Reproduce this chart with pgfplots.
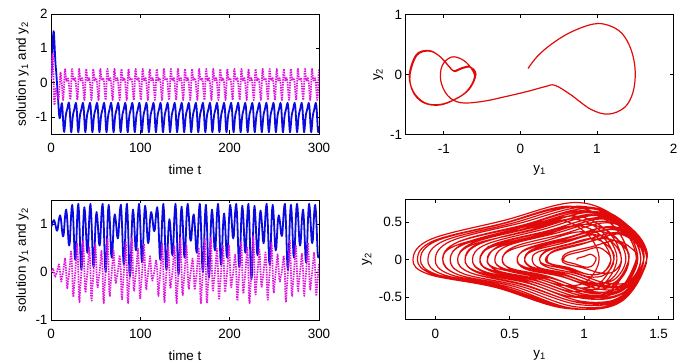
\documentclass[border=0pt]{standalone}
\usepackage{fontspec}
\setmainfont{Liberation Sans}
\usepackage{pgfplots}
\usepackage{pgfplotstable}
\pgfplotsset{compat=1.18}

\definecolor{lineblue}{RGB}{10,10,225}
\definecolor{linemag}{RGB}{225,20,225}
\definecolor{linered}{RGB}{225,10,10}

% periodic regime: t, y1, y2
\pgfplotstableread[row sep=\\]{
t y1 y2\\
0 .10 .10\\ .5 .22 .30\\ .9 .40 .50\\ 1.3 .65 .70\\ 1.7 .95 .84\\ 2.0 1.15 .82\\ 2.3 1.33 .68\\ 2.6 1.45 .40\\ 2.9 1.50 .05\\ 3.2 1.47 -.30\\ 3.5 1.36 -.55\\ 3.9 1.15 -.66\\ 4.3 .92 -.58\\ 4.8 .65 -.33\\ 5.3 .45 -.18\\ 5.8 .33 -.20\\
6.4 .10 -.28\\ 7.2 -.20 -.37\\ 8.0 -.50 -.45\\ 8.6 -.78 -.47\\ 9.1 -.95 -.35\\ 9.6 -1.04 -.10\\ 10.1 -1.02 .15\\ 10.6 -.90 .29\\ 11.1 -.76 .25\\ 11.6 -.65 .12\\ 12.2 -.60 -.05\\ 12.7 -.70 -.28\\ 13.1 -.88 -.43\\ 13.5 -1.08 -.51\\ 13.9 -1.28 -.46\\ 14.3 -1.41 -.27\\
14.8 -1.44 0\\ 15.3 -1.35 .32\\ 15.8 -1.19 .39\\ 16.2 -1.05 .30\\ 16.8 -.92 .12\\ 17.3 -.86 .05\\ 18.3 -.76 .10\\ 19.1 -.65 .12\\ 19.9 -.58 0\\ 20.6 -.67 -.25\\ 21.1 -.85 -.41\\ 21.5 -1.05 -.50\\ 21.9 -1.25 -.47\\ 22.3 -1.40 -.28\\
22.7 -1.45 0\\ 23.2 -1.36 .33\\ 23.7 -1.20 .40\\ 24.1 -1.06 .31\\ 24.7 -.93 .13\\ 25.2 -.87 .06\\ 26.2 -.77 .11\\ 27.0 -.66 .13\\ 27.8 -.59 0\\ 28.5 -.68 -.26\\ 29.0 -.86 -.42\\ 29.4 -1.06 -.51\\ 29.8 -1.26 -.47\\ 30.2 -1.40 -.28\\
30.6 -1.45 0\\ 31.1 -1.36 .33\\ 31.6 -1.20 .40\\ 32.0 -1.06 .31\\ 32.6 -.93 .13\\ 33.1 -.87 .06\\ 34.1 -.77 .11\\ 34.9 -.66 .13\\ 35.7 -.59 0\\ 36.4 -.68 -.26\\ 36.9 -.86 -.42\\ 37.3 -1.06 -.51\\ 37.7 -1.26 -.47\\ 38.1 -1.40 -.28\\
38.5 -1.45 0\\ 39.0 -1.36 .33\\ 39.5 -1.20 .40\\ 39.9 -1.06 .31\\ 40.5 -.93 .13\\ 41.0 -.87 .06\\ 42.0 -.77 .11\\ 42.8 -.66 .13\\ 43.6 -.59 0\\ 44.3 -.68 -.26\\ 44.8 -.86 -.42\\ 45.2 -1.06 -.51\\ 45.6 -1.26 -.47\\ 46.0 -1.40 -.28\\
46.4 -1.45 0\\ 46.9 -1.36 .33\\ 47.4 -1.20 .40\\ 47.8 -1.06 .31\\ 48.4 -.93 .13\\ 48.9 -.87 .06\\ 49.9 -.77 .11\\ 50.7 -.66 .13\\ 51.5 -.59 0\\ 52.2 -.68 -.26\\ 52.7 -.86 -.42\\ 53.1 -1.06 -.51\\ 53.5 -1.26 -.47\\ 53.9 -1.40 -.28\\
54.3 -1.45 0\\ 54.8 -1.36 .33\\ 55.3 -1.20 .40\\ 55.7 -1.06 .31\\ 56.3 -.93 .13\\ 56.8 -.87 .06\\ 57.8 -.77 .11\\ 58.6 -.66 .13\\ 59.4 -.59 0\\ 60.1 -.68 -.26\\ 60.6 -.86 -.42\\ 61.0 -1.06 -.51\\ 61.4 -1.26 -.47\\ 61.8 -1.40 -.28\\
62.2 -1.45 0\\ 62.7 -1.36 .33\\ 63.2 -1.20 .40\\ 63.6 -1.06 .31\\ 64.2 -.93 .13\\ 64.7 -.87 .06\\ 65.7 -.77 .11\\ 66.5 -.66 .13\\ 67.3 -.59 0\\ 68.0 -.68 -.26\\ 68.5 -.86 -.42\\ 68.9 -1.06 -.51\\ 69.3 -1.26 -.47\\ 69.7 -1.40 -.28\\
70.1 -1.45 0\\ 70.6 -1.36 .33\\ 71.1 -1.20 .40\\ 71.5 -1.06 .31\\ 72.1 -.93 .13\\ 72.6 -.87 .06\\ 73.6 -.77 .11\\ 74.4 -.66 .13\\ 75.2 -.59 0\\ 75.9 -.68 -.26\\ 76.4 -.86 -.42\\ 76.8 -1.06 -.51\\ 77.2 -1.26 -.47\\ 77.6 -1.40 -.28\\
78.0 -1.45 0\\ 78.5 -1.36 .33\\ 79.0 -1.20 .40\\ 79.4 -1.06 .31\\ 80.0 -.93 .13\\ 80.5 -.87 .06\\ 81.5 -.77 .11\\ 82.3 -.66 .13\\ 83.1 -.59 0\\ 83.8 -.68 -.26\\ 84.3 -.86 -.42\\ 84.7 -1.06 -.51\\ 85.1 -1.26 -.47\\ 85.5 -1.40 -.28\\
85.9 -1.45 0\\ 86.4 -1.36 .33\\ 86.9 -1.20 .40\\ 87.3 -1.06 .31\\ 87.9 -.93 .13\\ 88.4 -.87 .06\\ 89.4 -.77 .11\\ 90.2 -.66 .13\\ 91.0 -.59 0\\ 91.7 -.68 -.26\\ 92.2 -.86 -.42\\ 92.6 -1.06 -.51\\ 93.0 -1.26 -.47\\ 93.4 -1.40 -.28\\
93.8 -1.45 0\\ 94.3 -1.36 .33\\ 94.8 -1.20 .40\\ 95.2 -1.06 .31\\ 95.8 -.93 .13\\ 96.3 -.87 .06\\ 97.3 -.77 .11\\ 98.1 -.66 .13\\ 98.9 -.59 0\\ 99.6 -.68 -.26\\ 100.1 -.86 -.42\\ 100.5 -1.06 -.51\\ 100.9 -1.26 -.47\\ 101.3 -1.40 -.28\\
101.7 -1.45 0\\ 102.2 -1.36 .33\\ 102.7 -1.20 .40\\ 103.1 -1.06 .31\\ 103.7 -.93 .13\\ 104.2 -.87 .06\\ 105.2 -.77 .11\\ 106.0 -.66 .13\\ 106.8 -.59 0\\ 107.5 -.68 -.26\\ 108.0 -.86 -.42\\ 108.4 -1.06 -.51\\ 108.8 -1.26 -.47\\ 109.2 -1.40 -.28\\
109.6 -1.45 0\\ 110.1 -1.36 .33\\ 110.6 -1.20 .40\\ 111.0 -1.06 .31\\ 111.6 -.93 .13\\ 112.1 -.87 .06\\ 113.1 -.77 .11\\ 113.9 -.66 .13\\ 114.7 -.59 0\\ 115.4 -.68 -.26\\ 115.9 -.86 -.42\\ 116.3 -1.06 -.51\\ 116.7 -1.26 -.47\\ 117.1 -1.40 -.28\\
117.5 -1.45 0\\ 118.0 -1.36 .33\\ 118.5 -1.20 .40\\ 118.9 -1.06 .31\\ 119.5 -.93 .13\\ 120.0 -.87 .06\\ 121.0 -.77 .11\\ 121.8 -.66 .13\\ 122.6 -.59 0\\ 123.3 -.68 -.26\\ 123.8 -.86 -.42\\ 124.2 -1.06 -.51\\ 124.6 -1.26 -.47\\ 125.0 -1.40 -.28\\
125.4 -1.45 0\\ 125.9 -1.36 .33\\ 126.4 -1.20 .40\\ 126.8 -1.06 .31\\ 127.4 -.93 .13\\ 127.9 -.87 .06\\ 128.9 -.77 .11\\ 129.7 -.66 .13\\ 130.5 -.59 0\\ 131.2 -.68 -.26\\ 131.7 -.86 -.42\\ 132.1 -1.06 -.51\\ 132.5 -1.26 -.47\\ 132.9 -1.40 -.28\\
133.3 -1.45 0\\ 133.8 -1.36 .33\\ 134.3 -1.20 .40\\ 134.7 -1.06 .31\\ 135.3 -.93 .13\\ 135.8 -.87 .06\\ 136.8 -.77 .11\\ 137.6 -.66 .13\\ 138.4 -.59 0\\ 139.1 -.68 -.26\\ 139.6 -.86 -.42\\ 140.0 -1.06 -.51\\ 140.4 -1.26 -.47\\ 140.8 -1.40 -.28\\
141.2 -1.45 0\\ 141.7 -1.36 .33\\ 142.2 -1.20 .40\\ 142.6 -1.06 .31\\ 143.2 -.93 .13\\ 143.7 -.87 .06\\ 144.7 -.77 .11\\ 145.5 -.66 .13\\ 146.3 -.59 0\\ 147.0 -.68 -.26\\ 147.5 -.86 -.42\\ 147.9 -1.06 -.51\\ 148.3 -1.26 -.47\\ 148.7 -1.40 -.28\\
149.1 -1.45 0\\ 149.6 -1.36 .33\\ 150.1 -1.20 .40\\ 150.5 -1.06 .31\\ 151.1 -.93 .13\\ 151.6 -.87 .06\\ 152.6 -.77 .11\\ 153.4 -.66 .13\\ 154.2 -.59 0\\ 154.9 -.68 -.26\\ 155.4 -.86 -.42\\ 155.8 -1.06 -.51\\ 156.2 -1.26 -.47\\ 156.6 -1.40 -.28\\
157.0 -1.45 0\\ 157.5 -1.36 .33\\ 158.0 -1.20 .40\\ 158.4 -1.06 .31\\ 159.0 -.93 .13\\ 159.5 -.87 .06\\ 160.5 -.77 .11\\ 161.3 -.66 .13\\ 162.1 -.59 0\\ 162.8 -.68 -.26\\ 163.3 -.86 -.42\\ 163.7 -1.06 -.51\\ 164.1 -1.26 -.47\\ 164.5 -1.40 -.28\\
164.9 -1.45 0\\ 165.4 -1.36 .33\\ 165.9 -1.20 .40\\ 166.3 -1.06 .31\\ 166.9 -.93 .13\\ 167.4 -.87 .06\\ 168.4 -.77 .11\\ 169.2 -.66 .13\\ 170.0 -.59 0\\ 170.7 -.68 -.26\\ 171.2 -.86 -.42\\ 171.6 -1.06 -.51\\ 172.0 -1.26 -.47\\ 172.4 -1.40 -.28\\
172.8 -1.45 0\\ 173.3 -1.36 .33\\ 173.8 -1.20 .40\\ 174.2 -1.06 .31\\ 174.8 -.93 .13\\ 175.3 -.87 .06\\ 176.3 -.77 .11\\ 177.1 -.66 .13\\ 177.9 -.59 0\\ 178.6 -.68 -.26\\ 179.1 -.86 -.42\\ 179.5 -1.06 -.51\\ 179.9 -1.26 -.47\\ 180.3 -1.40 -.28\\
180.7 -1.45 0\\ 181.2 -1.36 .33\\ 181.7 -1.20 .40\\ 182.1 -1.06 .31\\ 182.7 -.93 .13\\ 183.2 -.87 .06\\ 184.2 -.77 .11\\ 185.0 -.66 .13\\ 185.8 -.59 0\\ 186.5 -.68 -.26\\ 187.0 -.86 -.42\\ 187.4 -1.06 -.51\\ 187.8 -1.26 -.47\\ 188.2 -1.40 -.28\\
188.6 -1.45 0\\ 189.1 -1.36 .33\\ 189.6 -1.20 .40\\ 190.0 -1.06 .31\\ 190.6 -.93 .13\\ 191.1 -.87 .06\\ 192.1 -.77 .11\\ 192.9 -.66 .13\\ 193.7 -.59 0\\ 194.4 -.68 -.26\\ 194.9 -.86 -.42\\ 195.3 -1.06 -.51\\ 195.7 -1.26 -.47\\ 196.1 -1.40 -.28\\
196.5 -1.45 0\\ 197.0 -1.36 .33\\ 197.5 -1.20 .40\\ 197.9 -1.06 .31\\ 198.5 -.93 .13\\ 199.0 -.87 .06\\ 200.0 -.77 .11\\ 200.8 -.66 .13\\ 201.6 -.59 0\\ 202.3 -.68 -.26\\ 202.8 -.86 -.42\\ 203.2 -1.06 -.51\\ 203.6 -1.26 -.47\\ 204.0 -1.40 -.28\\
204.4 -1.45 0\\ 204.9 -1.36 .33\\ 205.4 -1.20 .40\\ 205.8 -1.06 .31\\ 206.4 -.93 .13\\ 206.9 -.87 .06\\ 207.9 -.77 .11\\ 208.7 -.66 .13\\ 209.5 -.59 0\\ 210.2 -.68 -.26\\ 210.7 -.86 -.42\\ 211.1 -1.06 -.51\\ 211.5 -1.26 -.47\\ 211.9 -1.40 -.28\\
212.3 -1.45 0\\ 212.8 -1.36 .33\\ 213.3 -1.20 .40\\ 213.7 -1.06 .31\\ 214.3 -.93 .13\\ 214.8 -.87 .06\\ 215.8 -.77 .11\\ 216.6 -.66 .13\\ 217.4 -.59 0\\ 218.1 -.68 -.26\\ 218.6 -.86 -.42\\ 219.0 -1.06 -.51\\ 219.4 -1.26 -.47\\ 219.8 -1.40 -.28\\
220.2 -1.45 0\\ 220.7 -1.36 .33\\ 221.2 -1.20 .40\\ 221.6 -1.06 .31\\ 222.2 -.93 .13\\ 222.7 -.87 .06\\ 223.7 -.77 .11\\ 224.5 -.66 .13\\ 225.3 -.59 0\\ 226.0 -.68 -.26\\ 226.5 -.86 -.42\\ 226.9 -1.06 -.51\\ 227.3 -1.26 -.47\\ 227.7 -1.40 -.28\\
228.1 -1.45 0\\ 228.6 -1.36 .33\\ 229.1 -1.20 .40\\ 229.5 -1.06 .31\\ 230.1 -.93 .13\\ 230.6 -.87 .06\\ 231.6 -.77 .11\\ 232.4 -.66 .13\\ 233.2 -.59 0\\ 233.9 -.68 -.26\\ 234.4 -.86 -.42\\ 234.8 -1.06 -.51\\ 235.2 -1.26 -.47\\ 235.6 -1.40 -.28\\
236.0 -1.45 0\\ 236.5 -1.36 .33\\ 237.0 -1.20 .40\\ 237.4 -1.06 .31\\ 238.0 -.93 .13\\ 238.5 -.87 .06\\ 239.5 -.77 .11\\ 240.3 -.66 .13\\ 241.1 -.59 0\\ 241.8 -.68 -.26\\ 242.3 -.86 -.42\\ 242.7 -1.06 -.51\\ 243.1 -1.26 -.47\\ 243.5 -1.40 -.28\\
243.9 -1.45 0\\ 244.4 -1.36 .33\\ 244.9 -1.20 .40\\ 245.3 -1.06 .31\\ 245.9 -.93 .13\\ 246.4 -.87 .06\\ 247.4 -.77 .11\\ 248.2 -.66 .13\\ 249.0 -.59 0\\ 249.7 -.68 -.26\\ 250.2 -.86 -.42\\ 250.6 -1.06 -.51\\ 251.0 -1.26 -.47\\ 251.4 -1.40 -.28\\
251.8 -1.45 0\\ 252.3 -1.36 .33\\ 252.8 -1.20 .40\\ 253.2 -1.06 .31\\ 253.8 -.93 .13\\ 254.3 -.87 .06\\ 255.3 -.77 .11\\ 256.1 -.66 .13\\ 256.9 -.59 0\\ 257.6 -.68 -.26\\ 258.1 -.86 -.42\\ 258.5 -1.06 -.51\\ 258.9 -1.26 -.47\\ 259.3 -1.40 -.28\\
259.7 -1.45 0\\ 260.2 -1.36 .33\\ 260.7 -1.20 .40\\ 261.1 -1.06 .31\\ 261.7 -.93 .13\\ 262.2 -.87 .06\\ 263.2 -.77 .11\\ 264.0 -.66 .13\\ 264.8 -.59 0\\ 265.5 -.68 -.26\\ 266.0 -.86 -.42\\ 266.4 -1.06 -.51\\ 266.8 -1.26 -.47\\ 267.2 -1.40 -.28\\
267.6 -1.45 0\\ 268.1 -1.36 .33\\ 268.6 -1.20 .40\\ 269.0 -1.06 .31\\ 269.6 -.93 .13\\ 270.1 -.87 .06\\ 271.1 -.77 .11\\ 271.9 -.66 .13\\ 272.7 -.59 0\\ 273.4 -.68 -.26\\ 273.9 -.86 -.42\\ 274.3 -1.06 -.51\\ 274.7 -1.26 -.47\\ 275.1 -1.40 -.28\\
275.5 -1.45 0\\ 276.0 -1.36 .33\\ 276.5 -1.20 .40\\ 276.9 -1.06 .31\\ 277.5 -.93 .13\\ 278.0 -.87 .06\\ 279.0 -.77 .11\\ 279.8 -.66 .13\\ 280.6 -.59 0\\ 281.3 -.68 -.26\\ 281.8 -.86 -.42\\ 282.2 -1.06 -.51\\ 282.6 -1.26 -.47\\ 283.0 -1.40 -.28\\
283.4 -1.45 0\\ 283.9 -1.36 .33\\ 284.4 -1.20 .40\\ 284.8 -1.06 .31\\ 285.4 -.93 .13\\ 285.9 -.87 .06\\ 286.9 -.77 .11\\ 287.7 -.66 .13\\ 288.5 -.59 0\\ 289.2 -.68 -.26\\ 289.7 -.86 -.42\\ 290.1 -1.06 -.51\\ 290.5 -1.26 -.47\\ 290.9 -1.40 -.28\\
291.3 -1.45 0\\ 291.8 -1.36 .33\\ 292.3 -1.20 .40\\ 292.7 -1.06 .31\\ 293.3 -.93 .13\\ 293.8 -.87 .06\\ 294.8 -.77 .11\\ 295.6 -.66 .13\\ 296.4 -.59 0\\ 297.1 -.68 -.26\\ 297.6 -.86 -.42\\ 298.0 -1.06 -.51\\ 298.4 -1.26 -.47\\ 298.8 -1.40 -.28\\
299.2 -1.45 0\\ 299.7 -1.36 .33\\ 300 -1.27 .38\\
}\periodic

% chaotic regime: t, y1, y2
\pgfplotstableread[row sep=\\]{
t y1 y2\\
0 .95 0\\ .68 .96 .02\\ 1.36 1.00 .04\\ 2.04 1.04 .07\\ 2.72 1.07 .04\\ 3.4 1.08 0\\ 4.08 1.05 -.09\\ 4.76 1.00 -.10\\ 5.44 .94 -.06\\ 6.12 .88 -.03\\
6.8 .86 0\\ 7.48 .89 .06\\ 8.16 .99 .11\\ 8.84 1.09 .16\\ 9.52 1.15 .10\\ 10.2 1.18 0\\ 10.88 1.13 -.17\\ 11.56 1.03 -.20\\ 12.24 .89 -.12\\ 12.92 .77 -.06\\
13.6 .74 0\\ 14.28 .79 .10\\ 14.96 .96 .19\\ 15.64 1.14 .28\\ 16.32 1.26 .18\\ 17.0 1.30 0\\ 17.68 1.21 -.30\\ 18.36 1.04 -.34\\ 19.04 .81 -.20\\ 19.72 .60 -.11\\
20.4 .55 0\\ 21.08 .62 .15\\ 21.76 .89 .29\\ 22.44 1.16 .43\\ 23.12 1.33 .28\\ 23.8 1.40 0\\ 24.48 1.26 -.45\\ 25.16 1.00 -.52\\ 25.84 .65 -.30\\ 26.52 .33 -.17\\
27.2 .25 0\\ 27.88 .34 .20\\ 28.56 .72 .40\\ 29.24 1.09 .59\\ 29.92 1.33 .38\\ 30.6 1.42 0\\ 31.28 1.26 -.54\\ 31.96 .94 -.63\\ 32.64 .53 -.36\\ 33.32 .15 -.20\\
34.0 .05 0\\ 34.68 .15 .23\\ 35.36 .57 .44\\ 36.04 .99 .65\\ 36.72 1.25 .42\\ 37.4 1.35 0\\ 38.08 1.24 -.37\\ 38.76 1.02 -.43\\ 39.44 .73 -.25\\ 40.12 .47 -.14\\
40.8 .40 0\\ 41.48 .48 .18\\ 42.16 .81 .35\\ 42.84 1.13 .51\\ 43.52 1.34 .33\\ 44.2 1.42 0\\ 44.88 1.26 -.52\\ 45.56 .96 -.60\\ 46.24 .56 -.35\\ 46.92 .19 -.19\\
47.6 .10 0\\ 48.28 .19 .20\\ 48.96 .56 .39\\ 49.64 .93 .58\\ 50.32 1.16 .37\\ 51.0 1.25 0\\ 51.68 1.17 -.28\\ 52.36 1.01 -.32\\ 53.04 .80 -.19\\ 53.72 .60 -.10\\
54.4 .55 0\\ 55.08 .62 .15\\ 55.76 .90 .30\\ 56.44 1.18 .44\\ 57.12 1.35 .28\\ 57.8 1.42 0\\ 58.48 1.25 -.56\\ 59.16 .92 -.65\\ 59.84 .50 -.37\\ 60.52 .10 -.20\\
61.2 .00 0\\ 61.88 .11 .25\\ 62.56 .56 .48\\ 63.24 1.01 .70\\ 63.92 1.29 .46\\ 64.6 1.40 0\\ 65.28 1.27 -.43\\ 65.96 1.02 -.50\\ 66.64 .69 -.29\\ 67.32 .38 -.16\\
68.0 .30 0\\ 68.68 .37 .16\\ 69.36 .66 .31\\ 70.04 .95 .45\\ 70.72 1.13 .29\\ 71.4 1.20 0\\ 72.08 1.14 -.20\\ 72.76 1.03 -.23\\ 73.44 .88 -.13\\ 74.12 .74 -.07\\
74.8 .70 0\\ 75.48 .76 .12\\ 76.16 .98 .24\\ 76.84 1.20 .35\\ 77.52 1.34 .23\\ 78.2 1.40 0\\ 78.88 1.25 -.49\\ 79.56 .96 -.57\\ 80.24 .59 -.33\\ 80.92 .24 -.18\\
81.6 .15 0\\ 82.28 .25 .22\\ 82.96 .66 .43\\ 83.64 1.06 .64\\ 84.32 1.32 .41\\ 85.0 1.42 0\\ 85.68 1.24 -.56\\ 86.36 .89 -.65\\ 87.04 .43 -.37\\ 87.72 .01 -.20\\
88.4 -.10 0\\ 89.08 .01 .25\\ 89.76 .46 .48\\ 90.44 .91 .70\\ 91.12 1.19 .46\\ 91.8 1.30 0\\ 92.48 1.20 -.34\\ 93.16 1.00 -.39\\ 93.84 .75 -.22\\ 94.52 .51 -.12\\
95.2 .45 0\\ 95.88 .53 .17\\ 96.56 .84 .33\\ 97.24 1.15 .49\\ 97.92 1.34 .32\\ 98.6 1.42 0\\ 99.28 1.27 -.48\\ 99.96 .99 -.56\\ 100.64 .63 -.32\\ 101.32 .29 -.18\\
102.0 .20 0\\ 102.68 .29 .21\\ 103.36 .67 .40\\ 104.04 1.05 .59\\ 104.72 1.29 .38\\ 105.4 1.38 0\\ 106.08 1.29 -.31\\ 106.76 1.11 -.36\\ 107.44 .87 -.21\\ 108.12 .66 -.11\\
108.8 .60 0\\ 109.48 .65 .11\\ 110.16 .86 .22\\ 110.84 1.07 .33\\ 111.52 1.20 .21\\ 112.2 1.25 0\\ 112.88 1.20 -.16\\ 113.56 1.11 -.18\\ 114.24 .99 -.11\\ 114.92 .88 -.06\\
115.6 .85 0\\ 116.28 .89 .09\\ 116.96 1.05 .17\\ 117.64 1.21 .25\\ 118.32 1.31 .16\\ 119.0 1.35 0\\ 119.68 1.22 -.43\\ 120.36 .97 -.50\\ 121.04 .64 -.29\\ 121.72 .33 -.16\\
122.4 .25 0\\ 123.08 .34 .20\\ 123.76 .72 .40\\ 124.44 1.09 .59\\ 125.12 1.33 .38\\ 125.8 1.42 0\\ 126.48 1.26 -.54\\ 127.16 .94 -.63\\ 127.84 .53 -.36\\ 128.52 .15 -.20\\
129.2 .05 0\\ 129.88 .13 .18\\ 130.56 .47 .36\\ 131.24 .81 .53\\ 131.92 1.02 .34\\ 132.6 1.10 0\\ 133.28 1.01 -.30\\ 133.96 .84 -.34\\ 134.64 .61 -.20\\ 135.32 .40 -.11\\
136.0 .35 0\\ 136.68 .44 .19\\ 137.36 .78 .36\\ 138.04 1.12 .54\\ 138.72 1.33 .35\\ 139.4 1.42 0\\ 140.08 1.24 -.56\\ 140.76 .91 -.65\\ 141.44 .46 -.37\\ 142.12 .05 -.20\\
142.8 -.05 0\\ 143.48 .06 .25\\ 144.16 .51 .48\\ 144.84 .97 .71\\ 145.52 1.25 .46\\ 146.2 1.36 0\\ 146.88 1.23 -.42\\ 147.56 .99 -.48\\ 148.24 .67 -.28\\ 148.92 .37 -.15\\
149.6 .30 0\\ 150.28 .39 .20\\ 150.96 .75 .38\\ 151.64 1.11 .56\\ 152.32 1.33 .36\\ 153.0 1.42 0\\ 153.68 1.33 -.30\\ 154.36 1.15 -.35\\ 155.04 .92 -.20\\ 155.72 .70 -.11\\
156.4 .65 0\\ 157.08 .69 .10\\ 157.76 .87 .19\\ 158.44 1.05 .28\\ 159.12 1.16 .18\\ 159.8 1.20 0\\ 160.48 1.10 -.32\\ 161.16 .92 -.37\\ 161.84 .68 -.21\\ 162.52 .46 -.12\\
163.2 .40 0\\ 163.88 .48 .18\\ 164.56 .81 .35\\ 165.24 1.13 .51\\ 165.92 1.34 .33\\ 166.6 1.42 0\\ 167.28 1.25 -.56\\ 167.96 .92 -.65\\ 168.64 .50 -.37\\ 169.32 .10 -.20\\
170.0 .00 0\\ 170.68 .11 .25\\ 171.36 .56 .48\\ 172.04 1.01 .70\\ 172.72 1.29 .46\\ 173.4 1.40 0\\ 174.08 1.22 -.56\\ 174.76 .87 -.65\\ 175.44 .41 -.37\\ 176.12 -.01 -.20\\
176.8 -.12 0\\ 177.48 -.01 .25\\ 178.16 .45 .48\\ 178.84 .90 .71\\ 179.52 1.19 .46\\ 180.2 1.30 0\\ 180.88 1.20 -.34\\ 181.56 1.00 -.39\\ 182.24 .75 -.22\\ 182.92 .51 -.12\\
183.6 .45 0\\ 184.28 .53 .17\\ 184.96 .84 .33\\ 185.64 1.15 .49\\ 186.32 1.34 .32\\ 187.0 1.42 0\\ 187.68 1.27 -.50\\ 188.36 .98 -.58\\ 189.04 .59 -.34\\ 189.72 .24 -.18\\
190.4 .15 0\\ 191.08 .24 .19\\ 191.76 .58 .36\\ 192.44 .92 .54\\ 193.12 1.13 .35\\ 193.8 1.22 0\\ 194.48 1.11 -.36\\ 195.16 .90 -.42\\ 195.84 .62 -.24\\ 196.52 .36 -.13\\
197.2 .30 0\\ 197.88 .39 .19\\ 198.56 .74 .37\\ 199.24 1.09 .55\\ 199.92 1.31 .36\\ 200.6 1.40 0\\ 201.28 1.32 -.28\\ 201.96 1.16 -.32\\ 202.64 .95 -.19\\ 203.32 .75 -.10\\
204.0 .70 0\\ 204.68 .76 .13\\ 205.36 .99 .25\\ 206.04 1.22 .36\\ 206.72 1.36 .23\\ 207.4 1.42 0\\ 208.08 1.26 -.52\\ 208.76 .96 -.60\\ 209.44 .56 -.35\\ 210.12 .19 -.19\\
210.8 .10 0\\ 211.48 .20 .22\\ 212.16 .61 .44\\ 212.84 1.02 .64\\ 213.52 1.28 .42\\ 214.2 1.38 0\\ 214.88 1.26 -.39\\ 215.56 1.04 -.45\\ 216.24 .74 -.26\\ 216.92 .47 -.14\\
217.6 .40 0\\ 218.28 .48 .18\\ 218.96 .81 .35\\ 219.64 1.13 .51\\ 220.32 1.34 .33\\ 221.0 1.42 0\\ 221.68 1.23 -.56\\ 222.36 .87 -.65\\ 223.04 .40 -.37\\ 223.72 -.04 -.20\\
224.4 -.15 0\\ 225.08 -.03 .27\\ 225.76 .46 .52\\ 226.44 .95 .76\\ 227.12 1.26 .49\\ 227.8 1.38 0\\ 228.48 1.26 -.41\\ 229.16 1.02 -.47\\ 229.84 .71 -.27\\ 230.52 .42 -.15\\
231.2 .35 0\\ 231.88 .42 .16\\ 232.56 .72 .32\\ 233.24 1.02 .47\\ 233.92 1.21 .30\\ 234.6 1.28 0\\ 235.28 1.20 -.27\\ 235.96 1.04 -.31\\ 236.64 .84 -.18\\ 237.32 .65 -.10\\
238.0 .60 0\\ 238.68 .67 .14\\ 239.36 .93 .28\\ 240.04 1.19 .41\\ 240.72 1.35 .27\\ 241.4 1.42 0\\ 242.08 1.27 -.50\\ 242.76 .98 -.58\\ 243.44 .59 -.34\\ 244.12 .24 -.18\\
244.8 .15 0\\ 245.48 .25 .22\\ 246.16 .65 .43\\ 246.84 1.05 .63\\ 247.52 1.30 .41\\ 248.2 1.40 0\\ 248.88 1.29 -.37\\ 249.56 1.07 -.43\\ 250.24 .78 -.25\\ 250.92 .52 -.14\\
251.6 .45 0\\ 252.28 .51 .13\\ 252.96 .74 .25\\ 253.64 .98 .37\\ 254.32 1.12 .24\\ 255.0 1.18 0\\ 255.68 1.13 -.17\\ 256.36 1.03 -.20\\ 257.04 .90 -.11\\ 257.72 .78 -.06\\
258.4 .75 0\\ 259.08 .80 .12\\ 259.76 1.02 .23\\ 260.44 1.23 .34\\ 261.12 1.37 .22\\ 261.8 1.42 0\\ 262.48 1.26 -.54\\ 263.16 .94 -.63\\ 263.84 .53 -.36\\ 264.52 .15 -.20\\
265.2 .05 0\\ 265.88 .16 .24\\ 266.56 .59 .46\\ 267.24 1.02 .68\\ 267.92 1.29 .44\\ 268.6 1.40 0\\ 269.28 1.27 -.43\\ 269.96 1.02 -.50\\ 270.64 .69 -.29\\ 271.32 .38 -.16\\
272.0 .30 0\\ 272.68 .39 .20\\ 273.36 .75 .38\\ 274.04 1.11 .56\\ 274.72 1.33 .36\\ 275.4 1.42 0\\ 276.08 1.32 -.34\\ 276.76 1.12 -.40\\ 277.44 .85 -.23\\ 278.12 .61 -.13\\
278.8 .55 0\\ 279.48 .61 .13\\ 280.16 .85 .26\\ 280.84 1.09 .38\\ 281.52 1.24 .24\\ 282.2 1.30 0\\ 282.88 1.17 -.43\\ 283.56 .92 -.50\\ 284.24 .59 -.29\\ 284.92 .28 -.16\\
285.6 .20 0\\ 286.28 .30 .21\\ 286.96 .69 .42\\ 287.64 1.08 .61\\ 288.32 1.32 .40\\ 289.0 1.42 0\\ 289.68 1.32 -.32\\ 290.36 1.13 -.37\\ 291.04 .89 -.22\\ 291.72 .66 -.12\\
292.4 .60 0\\ 293.08 .66 .14\\ 293.76 .92 .27\\ 294.44 1.18 .40\\ 295.12 1.34 .26\\ 295.8 1.40 0\\ 296.48 1.27 -.43\\ 297.16 1.02 -.50\\ 297.84 .69 -.29\\ 298.52 .38 -.16\\
299.2 .30 0\\ 300 .36 .18\\
}\chaotic

\pgfplotsset{
  panel/.style={
    scale only axis, width=268bp, height=120bp, anchor=south west,
    tick align=inside, xtick pos=both, ytick pos=both,
    major tick length=3.5bp,
    axis line style={line width=0.7bp},
    every tick/.style={black, line width=0.6bp},
    tick label style={font=\fontsize{13.5}{15}\selectfont},
    label style={font=\fontsize{13.5}{15}\selectfont},
    xticklabel style={yshift=-6bp},
    xlabel style={yshift=-5bp},
    /pgf/number format/assume math mode=true,
    every axis plot/.append style={line join=round},
  },
  series1/.style={lineblue, line width=1.8bp},
  series2/.style={linemag, line width=1.7bp, dash pattern=on 1.5bp off 1bp},
  phase/.style={linered, line width=1.2bp, smooth, tension=0.6},
}

\begin{document}
\begin{tikzpicture}
\useasboundingbox (0,0) rectangle (682bp,363bp);

% time series, periodic case
\begin{axis}[panel, at={(51bp,229bp)},
  xmin=0, xmax=300, ymin=-1.5, ymax=2,
  xtick={0,100,200,300}, ytick={-1,0,1,2},
  xlabel={time t}, ylabel={solution y\textsubscript{1} and y\textsubscript{2}}]
\addplot[series1] table[x=t, y=y1]{\periodic};
\addplot[series2] table[x=t, y=y2]{\periodic};
\end{axis}

% phase plane, periodic case
\begin{axis}[panel, at={(405.5bp,228.5bp)},
  xmin=-1.5, xmax=2, ymin=-1, ymax=1,
  xtick={-1,0,1,2}, ytick={-1,0,1},
  xlabel={y\textsubscript{1}}, ylabel={y\textsubscript{2}}]
\addplot[phase] table[x=y1, y=y2]{\periodic};
\end{axis}

% time series, chaotic case
\begin{axis}[panel, at={(51bp,43bp)},
  xmin=0, xmax=300, ymin=-1, ymax=1.5,
  xtick={0,100,200,300}, ytick={-1,0,1},
  xlabel={time t}, ylabel={solution y\textsubscript{1} and y\textsubscript{2}}]
\addplot[series1] table[x=t, y=y1]{\chaotic};
\addplot[series2] table[x=t, y=y2]{\chaotic};
\end{axis}

% phase plane, chaotic case
\begin{axis}[panel, at={(405.5bp,43.5bp)},
  xmin=-0.2, xmax=1.6, ymin=-0.8, ymax=0.8,
  xtick={0,0.5,1,1.5}, ytick={-0.5,0,0.5},
  xlabel={y\textsubscript{1}}, ylabel={y\textsubscript{2}}]
\addplot[phase] table[x=y1, y=y2]{\chaotic};
\end{axis}
\end{tikzpicture}
\end{document}
